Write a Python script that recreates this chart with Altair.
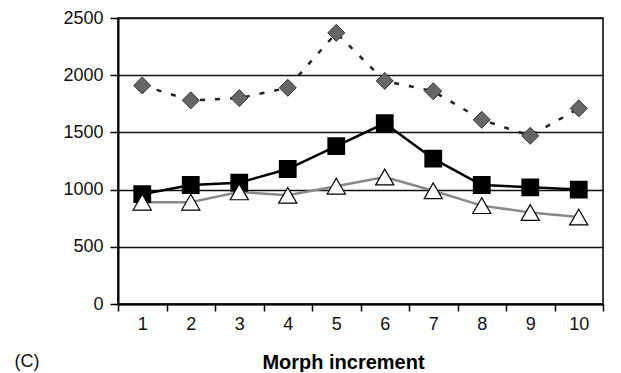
import altair as alt
import pandas as pd

increments = [1, 2, 3, 4, 5, 6, 7, 8, 9, 10]
diamond_vals = [1910, 1780, 1800, 1890, 2370, 1950, 1860, 1610, 1470, 1710]
square_vals = [960, 1040, 1060, 1180, 1380, 1580, 1270, 1040, 1020, 1000]
triangle_vals = [890, 890, 980, 950, 1030, 1110, 990, 860, 800, 760]

FONT = "Liberation Sans"

def frame(vals):
    return pd.DataFrame({"inc": [str(i) for i in increments], "v": vals})

x_enc = alt.X(
    "inc:O",
    sort=[str(i) for i in increments],
    scale=alt.Scale(paddingInner=0, paddingOuter=0),
    axis=alt.Axis(
        title="Morph increment",
        labelAngle=0,
        tickBand="extent",
        grid=False,
        domainColor="black",
        domainWidth=2,
        tickColor="black",
        tickWidth=1.5,
        tickSize=7,
        labelPadding=4,
        labelFont=FONT,
        labelFontSize=18,
        labelColor="#111",
        titleFont=FONT,
        titleFontSize=20,
        titleFontWeight="bold",
        titleColor="black",
        titleX=225,
        titleY=58,
        titleBaseline="middle",
    ),
)
y_enc = alt.Y(
    "v:Q",
    scale=alt.Scale(domain=[0, 2500]),
    axis=alt.Axis(
        title=None,
        values=[0, 500, 1000, 1500, 2000, 2500],
        format="d",
        grid=True,
        gridColor="#111",
        gridWidth=1.5,
        gridOpacity=1,
        domainColor="black",
        domainWidth=2,
        tickColor="black",
        tickWidth=1.5,
        tickSize=8,
        labelPadding=7,
        labelFont=FONT,
        labelFontSize=18,
        labelColor="#111",
    ),
)

d_line = alt.Chart(frame(diamond_vals)).mark_line(
    color="#222", strokeWidth=2.5, strokeDash=[5, 10]
).encode(x=x_enc, y=y_enc)
d_pts = alt.Chart(frame(diamond_vals)).mark_point(
    shape="diamond", size=290, filled=True, fill="#666", stroke="#333", strokeWidth=1, opacity=1
).encode(x=x_enc, y=y_enc)

s_line = alt.Chart(frame(square_vals)).mark_line(
    color="black", strokeWidth=2.5
).encode(x=x_enc, y=y_enc)
s_pts = alt.Chart(frame(square_vals)).mark_point(
    shape="square", size=250, filled=True, fill="black", stroke="black", opacity=1
).encode(x=x_enc, y=y_enc)

t_line = alt.Chart(frame(triangle_vals)).mark_line(
    color="#888", strokeWidth=2.5
).encode(x=x_enc, y=y_enc)
t_pts = alt.Chart(frame(triangle_vals)).mark_point(
    shape="triangle-up", size=330, filled=True, fill="white", stroke="black", strokeWidth=1.2, opacity=1
).encode(x=x_enc, y=y_enc)

label = alt.Chart(pd.DataFrame({"t": ["(C)"]})).mark_text(
    font=FONT, fontSize=18, color="#111", align="center", baseline="middle"
).encode(text="t:N", x=alt.value(-91), y=alt.value(344))

chart = alt.layer(d_line, s_line, t_line, d_pts, s_pts, t_pts, label).properties(
    width=485,
    height=286,
    autosize=alt.AutoSizeParams(type="none"),
    padding={"left": 110, "top": 10, "right": 10, "bottom": 68},
    background="white",
).configure_view(stroke="black", strokeWidth=1.5)

chart.save("out.html", embed_options={"renderer": "svg", "actions": False})
